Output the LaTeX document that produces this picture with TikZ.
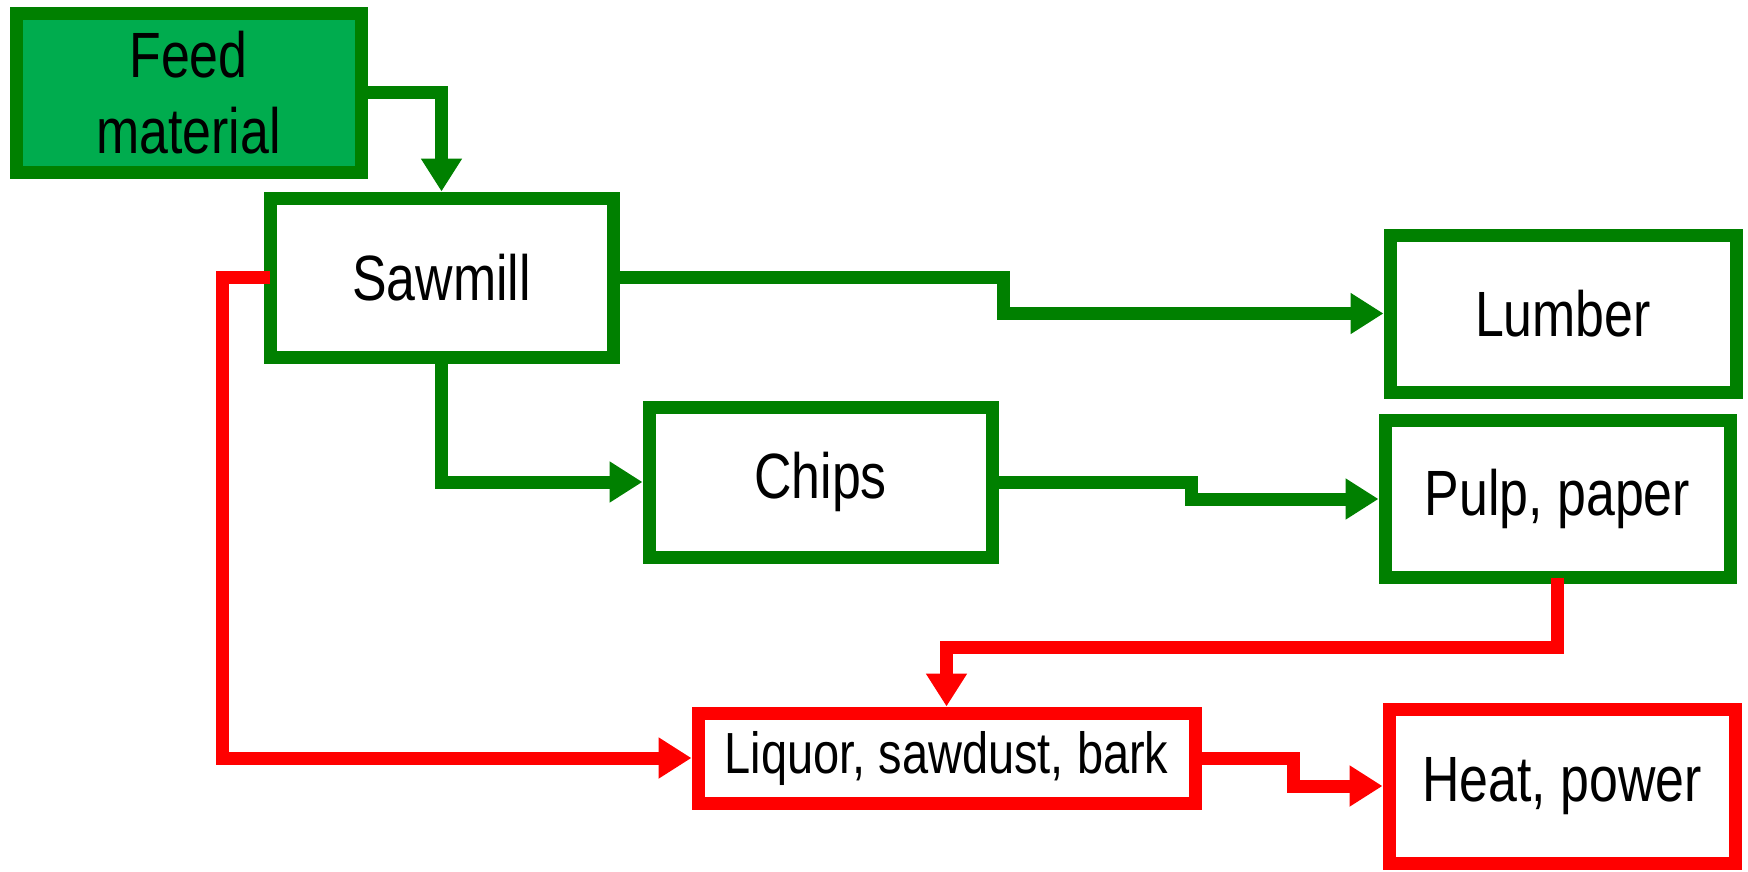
\documentclass[tikz,border=0pt]{standalone}
\usepackage{fontspec}
\setmainfont[FakeStretch=0.81]{Liberation Sans}
\usetikzlibrary{arrows.meta}
\definecolor{dgreen}{RGB}{0,128,0}
\definecolor{lgreen}{RGB}{0,172,78}
\definecolor{pred}{RGB}{255,0,0}
\begin{document}
\begin{tikzpicture}[x=1pt,y=-1pt,
  box/.style={draw=dgreen,line width=13pt,fill=white,inner sep=0pt,align=center,
    font=\fontsize{64}{76}\selectfont},
  rbox/.style={box,draw=pred},
  conn/.style={draw=dgreen,line width=13pt,-{Triangle[length=33pt,width=39pt]}},
  rconn/.style={conn,draw=pred}]
\useasboundingbox (0,0) rectangle (1748,871);
\node[box,fill=lgreen,minimum width=345pt,minimum height=159pt] (feed) at (188.5,92.5) {Feed\\material};
\node[box,minimum width=343pt,minimum height=159pt] (saw) at (441.5,277.5) {Sawmill};
\node[box,minimum width=346pt,minimum height=157pt] (lumber) at (1563,313.5) {Lumber};
\node[box,minimum width=343pt,minimum height=150pt] (chips) at (820.5,482) {Chips};
\node[box,minimum width=345pt,minimum height=157pt] (pulp) at (1557.5,499) {Pulp, paper};
\node[rbox,minimum width=497pt,minimum height=90pt,font=\fontsize{58}{70}\selectfont] (liquor) at (946.5,758) {Liquor, sawdust, bark};
\node[rbox,minimum width=346pt,minimum height=154pt] (heat) at (1562,786) {Heat, power};
\coordinate (k1) at (1003,0);
\coordinate (k2) at (1191,0);
\coordinate (k3) at (0,647);
\coordinate (k4) at (222,0);
\coordinate (k5) at (1293,0);
\draw[conn] (feed.east) -| (saw.north);
\draw[conn] (saw.east) -- (saw.east -| k1) |- (lumber.west);
\draw[conn] (saw.south) |- (chips.west);
\draw[conn] (chips.east) -- (chips.east -| k2) |- (pulp.west);
\draw[rconn] ([yshift=6.5pt]pulp.south) -- (pulp.south |- k3) -| (liquor.north);
\draw[rconn] ([xshift=6.5pt]saw.west) -- (saw.west -| k4) |- (liquor.west);
\draw[rconn] (liquor.east) -- (liquor.east -| k5) |- (heat.west);
\end{tikzpicture}
\end{document}
